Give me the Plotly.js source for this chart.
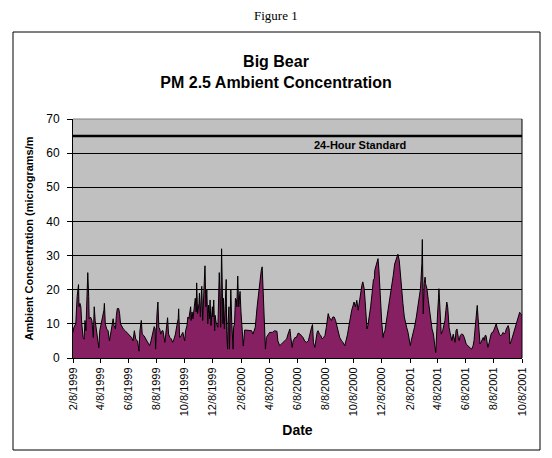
<!DOCTYPE html>
<html><head><meta charset="utf-8">
<script src="https://cdn.plot.ly/plotly-3.0.1.min.js"></script>
<style>html,body{margin:0;padding:0;background:#fff;}#chart{width:552px;height:458px;}</style>
</head><body><div id="chart"></div>
<script>
// PM 2.5 samples, Big Bear
const dates1999 = ["1999-02-08","1999-02-10","1999-02-14","1999-02-17","1999-02-20","1999-02-21","1999-02-23","1999-02-25","1999-02-27","1999-03-02","1999-03-04","1999-03-06","1999-03-08","1999-03-11","1999-03-12","1999-03-14","1999-03-15","1999-03-18","1999-03-21","1999-03-24","1999-03-26","1999-03-28","1999-03-31","1999-04-02","1999-04-05","1999-04-07","1999-04-10","1999-04-13","1999-04-16","1999-04-17","1999-04-19","1999-04-22","1999-04-25","1999-04-28","1999-05-01","1999-05-04","1999-05-06","1999-05-08","1999-05-11","1999-05-13","1999-05-15","1999-05-18","1999-05-20","1999-05-22","1999-05-25","1999-05-28","1999-06-01","1999-06-04","1999-06-08","1999-06-11","1999-06-15","1999-06-18","1999-06-21","1999-06-24","1999-06-28","1999-07-01","1999-07-03","1999-07-06","1999-07-08","1999-07-12","1999-07-14","1999-07-17","1999-07-21","1999-07-24","1999-07-27","1999-07-30","1999-08-02","1999-08-03","1999-08-05","1999-08-06","1999-08-09","1999-08-11","1999-08-13","1999-08-15","1999-08-17","1999-08-20","1999-08-22","1999-08-25","1999-08-26","1999-08-28","1999-08-30","1999-09-01","1999-09-03","1999-09-06","1999-09-09","1999-09-12","1999-09-15","1999-09-18","1999-09-21","1999-09-24","1999-09-25","1999-09-26","1999-09-27","1999-09-30","1999-10-04","1999-10-08","1999-10-10","1999-10-13","1999-10-15","1999-10-17","1999-10-18","1999-10-21","1999-10-22","1999-10-24","1999-10-26","1999-10-28","1999-10-29","1999-10-31","1999-11-02","1999-11-03","1999-11-05","1999-11-08","1999-11-09","1999-11-11","1999-11-12","1999-11-14","1999-11-16","1999-11-18","1999-11-20","1999-11-21","1999-11-23","1999-11-25","1999-11-27","1999-11-29","1999-12-01","1999-12-02","1999-12-04","1999-12-07","1999-12-08","1999-12-10","1999-12-12","1999-12-13","1999-12-15","1999-12-17","1999-12-19","1999-12-21","1999-12-22","1999-12-24","1999-12-25","1999-12-27","1999-12-28","1999-12-30","1999-12-31"];
const pm1999 = [7.5,9,10,18,21.5,15,16,15,10,6,5.5,11,8,18,25,18,11.5,12,11,6,15,11,8,5,3,8,10,11,14,16,10,8.5,8,5,8,10,11.5,9.5,8.5,12.5,14.5,14.5,13,10,9,8.5,8,7.5,7,6.5,6,5,8,5.5,5,2,8,11,7,6.5,6,5,4.1,3.6,5,7,8.5,9.2,8.5,2.6,13,16.4,9,8.5,7,8,8,6,4.6,7,10,11.8,7,6,5.6,4.6,5.6,7,9.5,11.5,14.4,8.5,6,6.5,7.5,5,8,9.5,12,11.5,12.5,15,11,13.5,11.5,14.5,15.5,17.5,13.5,22,13,16,19,12,15.5,21,11,17,23,27,15,20,10,15.5,11.5,17,9.5,15,12,17,8,12.5,10.5,9.5,9,20,25,17,9,32,19,10,17.5];

const dates2000 = ["2000-01-02","2000-01-04","2000-01-06","2000-01-07","2000-01-09","2000-01-10","2000-01-12","2000-01-13","2000-01-15","2000-01-16","2000-01-18","2000-01-19","2000-01-21","2000-01-22","2000-01-24","2000-01-26","2000-01-28","2000-01-29","2000-01-31","2000-02-02","2000-02-04","2000-02-05","2000-02-07","2000-02-09","2000-02-11","2000-02-12","2000-02-15","2000-02-19","2000-02-23","2000-02-27","2000-03-01","2000-03-04","2000-03-09","2000-03-13","2000-03-17","2000-03-19","2000-03-22","2000-03-24","2000-03-26","2000-03-29","2000-03-31","2000-04-02","2000-04-06","2000-04-09","2000-04-15","2000-04-20","2000-04-25","2000-04-27","2000-05-01","2000-05-05","2000-05-08","2000-05-12","2000-05-16","2000-05-19","2000-05-23","2000-05-25","2000-05-28","2000-05-30","2000-06-03","2000-06-06","2000-06-10","2000-06-14","2000-06-17","2000-06-21","2000-06-24","2000-06-28","2000-07-02","2000-07-05","2000-07-09","2000-07-11","2000-07-13","2000-07-16","2000-07-18","2000-07-21","2000-07-23","2000-07-26","2000-07-29","2000-08-01","2000-08-04","2000-08-07","2000-08-10","2000-08-12","2000-08-14","2000-08-16","2000-08-18","2000-08-21","2000-08-24","2000-08-27","2000-08-30","2000-09-02","2000-09-05","2000-09-08","2000-09-12","2000-09-15","2000-09-19","2000-09-22","2000-09-25","2000-09-28","2000-10-01","2000-10-04","2000-10-07","2000-10-09","2000-10-12","2000-10-15","2000-10-18","2000-10-20","2000-10-22","2000-10-24","2000-10-26","2000-10-28","2000-10-31","2000-11-02","2000-11-04","2000-11-06","2000-11-08","2000-11-11","2000-11-14","2000-11-17","2000-11-20","2000-11-22","2000-11-23","2000-11-26","2000-11-29","2000-11-30","2000-12-02","2000-12-04","2000-12-06","2000-12-08","2000-12-11","2000-12-12","2000-12-15","2000-12-18","2000-12-22","2000-12-25","2000-12-29"];
const pm2000 = [8.5,16,23,8,2.6,10.5,15,2.6,10.5,20,10.5,8.5,2.6,9,10,17.5,17,15,24,15,17.5,19.5,13.5,9,6,3.5,8.2,8.2,8.2,8.2,8,7,9,15,19.8,22.7,25.7,26.7,20.8,12,2.6,6,7,7.5,7.5,8,7.8,5,3.6,4.1,4.6,5,5.6,7,8.5,6,3.1,5,6,6,7.3,7,6.6,5.9,5,4.6,5,7,9,9.8,4.6,3.1,5,7.5,8,7,6.6,5.6,6,6.6,9,11,13,12,11.5,11,12,12,11,9,7,6,5,4.6,3.6,5,7,9.5,12,14,15.4,16.4,15,16.9,14,15.9,18.3,20.3,21.3,22.3,20.3,16.9,11,8.5,9.5,12,15,18.8,23,23.2,25.7,27.2,28.8,29.1,25.7,19.8,14.9,10.5,6,7,8,10.5,13.9,16.9,20.8];

const dates2001 = ["2001-01-02","2001-01-05","2001-01-09","2001-01-11","2001-01-12","2001-01-15","2001-01-17","2001-01-20","2001-01-23","2001-01-26","2001-01-29","2001-01-31","2001-02-03","2001-02-06","2001-02-08","2001-02-10","2001-02-14","2001-02-17","2001-02-21","2001-02-25","2001-02-28","2001-03-02","2001-03-03","2001-03-05","2001-03-06","2001-03-07","2001-03-08","2001-03-10","2001-03-12","2001-03-13","2001-03-16","2001-03-19","2001-03-22","2001-03-25","2001-03-27","2001-03-30","2001-04-01","2001-04-02","2001-04-04","2001-04-05","2001-04-07","2001-04-08","2001-04-10","2001-04-11","2001-04-13","2001-04-15","2001-04-16","2001-04-19","2001-04-21","2001-04-24","2001-04-26","2001-04-28","2001-04-30","2001-05-01","2001-05-03","2001-05-05","2001-05-07","2001-05-09","2001-05-12","2001-05-14","2001-05-16","2001-05-18","2001-05-20","2001-05-23","2001-05-25","2001-05-27","2001-05-30","2001-06-02","2001-06-05","2001-06-09","2001-06-12","2001-06-15","2001-06-18","2001-06-21","2001-06-24","2001-06-26","2001-06-29","2001-07-01","2001-07-03","2001-07-05","2001-07-07","2001-07-09","2001-07-11","2001-07-13","2001-07-16","2001-07-18","2001-07-20","2001-07-22","2001-07-24","2001-07-26","2001-07-29","2001-07-31","2001-08-02","2001-08-04","2001-08-06","2001-08-09","2001-08-11","2001-08-13","2001-08-15","2001-08-17","2001-08-20","2001-08-22","2001-08-24","2001-08-26","2001-08-28","2001-08-31","2001-09-02","2001-09-04","2001-09-06","2001-09-08","2001-09-10","2001-09-12","2001-09-15","2001-09-18","2001-09-21","2001-09-24","2001-09-26","2001-09-29","2001-10-01","2001-10-03","2001-10-05","2001-10-08"];
const pm2001 = [24.2,27.5,29.6,30.1,30.4,28.6,24.7,20.8,15.9,12,9.5,9,7.5,5.6,3.6,5.1,7,9,12,15.4,18.3,20.3,22.7,27.6,34.7,19.8,12.9,21.8,23.7,21.8,20.3,16.9,13.4,11,8.5,7,5.1,3.1,1.6,4.1,8,12.9,17.4,20.3,14.9,10,7,8,9,11,13.9,16.4,14.9,11.5,9,7.5,6,5.1,7,5.6,4.6,8,8.5,6,5.1,6.6,7,6.9,6,4.1,3.6,3.1,2.9,2.6,3.6,5.1,9,12,15.4,11.5,6,4.1,4.6,5.1,6,5.1,6.6,6.6,4.1,3.1,4.6,6,7,7.5,7.5,8.5,9.5,10,9,8,7,6.6,6.6,7,7.5,7,7.5,8.5,9,9.5,8.5,4.1,5.1,6.6,7.5,9,10,11.5,12.9,13.4,12.9,12.5];

const standardLevel = 65;
const standardLabel = "24-Hour Standard";
const tickDates = ["1999-02-08","1999-04-08","1999-06-08","1999-08-08","1999-10-08","1999-12-08","2000-02-08","2000-04-08","2000-06-08","2000-08-08","2000-10-08","2000-12-08","2001-02-08","2001-04-08","2001-06-08","2001-08-08","2001-10-08"];
const tickLabels = ["2/8/1999","4/8/1999","6/8/1999","8/8/1999","10/8/1999","12/8/1999","2/8/2000","4/8/2000","6/8/2000","8/8/2000","10/8/2000","12/8/2000","2/8/2001","4/8/2001","6/8/2001","8/8/2001","10/8/2001"];
const xRange = ["1999-02-08","2001-10-08"];
const yRange = [0, 70];

const allDates = dates1999.concat(dates2000, dates2001);
const allPM = pm1999.concat(pm2000, pm2001);

const FONT = "Arial, 'Liberation Sans', sans-serif";

const trace = {
  type: "scatter", mode: "lines",
  x: allDates, y: allPM,
  fill: "tozeroy", fillcolor: "#862062",
  line: {color: "#000000", width: 1},
  hoverinfo: "x+y", showlegend: false
};

const layout = {
  width: 552, height: 458,
  margin: {l: 73, r: 30, t: 119, b: 100, pad: 0},
  paper_bgcolor: "#ffffff", plot_bgcolor: "#c0c0c0",
  showlegend: false,
  title: {
    text: "<b>Big Bear<br>PM 2.5 Ambient Concentration</b>",
    font: {family: FONT, size: 16, color: "#000"},
    x: 0.5, xanchor: "center", xref: "container",
    y: 1 - 67/458, yanchor: "middle", yref: "container"
  },
  xaxis: {
    type: "date", range: xRange,
    tickmode: "array", tickvals: tickDates, ticktext: tickLabels,
    tickangle: -90, ticks: "outside", ticklen: 4, tickcolor: "#000", tickwidth: 1,
    tickfont: {family: FONT, size: 11, color: "#000"},
    showgrid: false, showline: true, linecolor: "#000", linewidth: 1,
    zeroline: false,
    title: {text: "<b>Date</b>", font: {family: FONT, size: 14, color: "#000"}, standoff: 9}
  },
  yaxis: {
    range: yRange, dtick: 10, tick0: 0,
    ticks: "outside", ticklen: 5, tickcolor: "#000", tickwidth: 1,
    ticklabelstandoff: 5,
    tickfont: {family: FONT, size: 12, color: "#000"},
    showgrid: true, gridcolor: "#000", gridwidth: 1,
    showline: true, linecolor: "#000", linewidth: 1,
    zeroline: false,
    title: {text: "<b>Ambient Concentration (micrograms/m</b>", font: {family: FONT, size: 11, color: "#000"}, standoff: 10}
  },
  shapes: [
    {type: "line", xref: "paper", yref: "y", x0: 0, x1: 1, y0: standardLevel, y1: standardLevel,
     line: {color: "#000", width: 2.5}},
    {type: "line", xref: "paper", yref: "paper", x0: 0, x1: 1, y0: 1, y1: 1,
     line: {color: "#808080", width: 1}},
    {type: "line", xref: "paper", yref: "paper", x0: 1, x1: 1, y0: 0, y1: 1,
     line: {color: "#000", width: 1}},
    {type: "rect", xref: "paper", yref: "paper",
     x0: (13-73)/449, x1: (540-73)/449, y0: (358-450)/239, y1: (358-32)/239,
     line: {color: "#000", width: 1}, fillcolor: "rgba(0,0,0,0)", layer: "below"}
  ],
  annotations: [
    {text: standardLabel, xref: "paper", yref: "y", x: (360-73)/449, y: standardLevel,
     xanchor: "center", yanchor: "top", yshift: -1, showarrow: false,
     font: {family: FONT, size: 11, color: "#000", weight: "bold"}},
    {text: "Figure 1", xref: "paper", yref: "paper", x: (276-73)/449, y: (358-15)/239,
     xanchor: "center", yanchor: "middle", showarrow: false,
     font: {family: "'Times New Roman', 'Liberation Serif', serif", size: 13, color: "#000"}}
  ]
};

Plotly.newPlot("chart", [trace], layout, {displayModeBar: false, staticPlot: true});
</script>
</body></html>
